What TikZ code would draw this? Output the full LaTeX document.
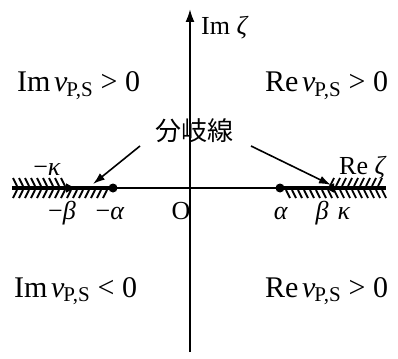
\RequirePackage{fix-cm}
\documentclass[tikz,border=0pt]{standalone}
\usepackage{fontspec}
\setmainfont{Liberation Serif}
\newfontfamily\cjk{Noto Sans CJK JP}
\usetikzlibrary{arrows.meta}
\newcommand{\nups}{\textit{ν}\textsubscript{\kern-0.05em P,S}}
\begin{document}
\begin{tikzpicture}[x=1pt,y=-1pt,
  lbl/.style={font=\fontsize{30}{32}\selectfont, inner sep=0pt},
  sml/.style={font=\fontsize{26}{28}\selectfont, inner sep=0pt},
  axis/.style={line width=2pt},
  cut/.style={line width=4pt},
  hatch/.style={line width=1.8pt},
  pt/.style={circle, fill=black, inner sep=0pt, minimum size=9pt},
  ptr/.style={line width=1.6pt, -{Latex[length=12pt,width=8pt]}}]
\useasboundingbox (0,0) rectangle (398,358);
% axes
\coordinate (ytop) at (190,9);
\coordinate (ybot) at (190,352);
\coordinate (xl) at (12,188);
\coordinate (xr) at (386,188);
\draw[axis, -{Latex[length=13pt,width=9pt]}] (ybot) -- (ytop);
\draw[axis] (xl) -- (xr);
% branch points
\node[pt] (ma) at (113,188) {};
\node[pt] (a) at (280,188) {};
\coordinate (mb) at (77,188);
\coordinate (b) at (323,188);
% cuts
\draw[cut] (xl) -- (ma.center);
\draw[cut] (a.center) -- (xr);
\draw[cut, -{Latex[length=11pt,width=10pt]}] (50,188) -- (mb);
\draw[cut, -{Latex[length=11pt,width=10pt]}] (350,188) -- (b);
% hatches
\foreach \x in {13,19,...,107} \draw[hatch] (\x+4,190) -- (\x,198);
\foreach \x in {13,19,...,63} \draw[hatch] (\x,178) -- (\x+4,186);
\foreach \x in {286,292,...,382} \draw[hatch] (\x,190) -- (\x+4,198);
\foreach \x in {330,336,...,378} \draw[hatch] (\x,186) -- (\x+4,178);
% quadrant labels
\node[lbl, anchor=base west] (q2) at (17,92) {Im\kern0.12em\nups{} >{} 0};
\node[lbl, anchor=base west] (q1) at (265,92) {Re\kern0.12em\nups{} >{} 0};
\node[lbl, anchor=base west] (q3) at (14,297) {Im\kern0.12em\nups{} <{} 0};
\node[lbl, anchor=base west] (q4) at (265,297) {Re\kern0.12em\nups{} >{} 0};
% axis labels
\node[sml, anchor=base west] (im) at (201,35) {Im \textit{ζ}};
\node[sml, anchor=base west] (re) at (339,174) {Re \textit{ζ}};
\node[sml, anchor=base] (O) at (181,219) {O};
\node[sml, anchor=base] (lma) at (110,219) {−\textit{α}};
\node[sml, anchor=base] (lmb) at (62,219) {−\textit{β}};
\node[sml, anchor=base] (lmk) at (47,175) {−\textit{κ}};
\node[sml, anchor=base] (la) at (281,219) {\textit{α}};
\node[sml, anchor=base] (lb) at (322,219) {\textit{β}};
\node[sml, anchor=base] (lk) at (344,219) {\textit{κ}};
% branch cut label
\node[inner sep=0pt, font=\cjk\fontsize{26}{28}\selectfont] (bc) at (194,131) {分岐線};
\coordinate (s1) at (140,146);
\coordinate (s2) at (251,146);
\draw[ptr] (s1) -- (93,184);
\draw[ptr] (s2) -- (331,185);
\end{tikzpicture}
\end{document}
